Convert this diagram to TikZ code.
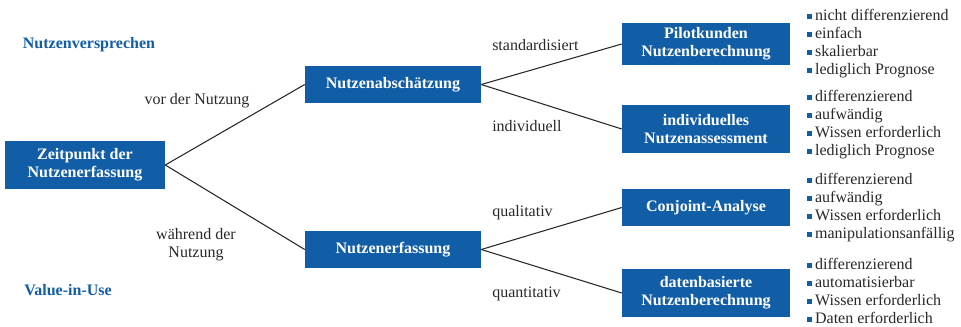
\documentclass[tikz,border=0pt]{standalone}
\usepackage{fontspec}
\setmainfont{Liberation Serif}
\usetikzlibrary{positioning}
\definecolor{nutzblue}{RGB}{17,94,167}
\definecolor{linegray}{RGB}{40,40,40}
\newcommand{\sqbul}{\strut\textcolor{nutzblue}{\rule[1pt]{3.6pt}{3.6pt}}\hspace{2.3pt}}

\begin{document}
\begin{tikzpicture}[
    x=0.75pt, y=-0.75pt,
    box/.style={fill=nutzblue, text=white, align=center, inner sep=0pt, font=\bfseries\fontsize{12}{13.5}\selectfont},
    lbl/.style={text=linegray, inner sep=0pt, align=center, font=\fontsize{12}{13.5}\selectfont},
    head/.style={text=nutzblue, inner sep=0pt, font=\bfseries\fontsize{12}{13.5}\selectfont},
    props/.style={anchor=north west, align=left, inner sep=0pt, text=linegray, font=\fontsize{12}{13.5}\selectfont},
    branch/.style={draw=linegray, line width=0.8pt}
]
\useasboundingbox (0,0) rectangle (961,326);

% Headings on the left
\node[head] (promise) at (89,45) {Nutzenversprechen};
\node[head] (inuse) at (68,290) {Value-in-Use};

% Tree of boxes
\node[box, minimum width=120pt, minimum height=36pt] (root) at (85,165) {Zeitpunkt der\\Nutzenerfassung};

\node[box, minimum width=132pt, minimum height=27.75pt] (estim) at (393,84.5) {Nutzenabsch\"atzung};
\node[box, minimum width=132pt, minimum height=27.75pt] (capture) at (393,249.5) {Nutzenerfassung};

\node[box, minimum width=126pt, minimum height=31.5pt] (pilot) at (706,44) {Pilotkunden\\Nutzenberechnung};
\node[box, minimum width=126pt, minimum height=36pt] (assess) at (706,129) {individuelles\\Nutzenassessment};
\node[box, minimum width=126pt, minimum height=27.75pt] (conjoint) at (706,207.5) {Conjoint-Analyse};
\node[box, minimum width=126pt, minimum height=36pt] (datacalc) at (706,293) {datenbasierte\\Nutzenberechnung};

% Branches
\draw[branch] (root.east) -- (estim.west);
\draw[branch] (root.east) -- (capture.west);
\draw[branch] (estim.east) -- (pilot.west);
\draw[branch] (estim.east) -- (assess.west);
\draw[branch] (capture.east) -- (conjoint.west);
\draw[branch] (capture.east) -- (datacalc.west);

% Branch labels
\node[lbl] (before) at (197,101) {vor der Nutzung};
\node[lbl] (during) at (196,245) {w\"ahrend der\\Nutzung};
\node[lbl, anchor=west] (std) at (492,45) {standardisiert};
\node[lbl, anchor=west] (ind) at (492,126) {individuell};
\node[lbl, anchor=west] (qual) at (492,213) {qualitativ};
\node[lbl, anchor=west] (quant) at (492,294) {quantitativ};

% Property lists
\node[props] (pilotprops) at (807,7.4) {\sqbul nicht differenzierend\\\sqbul einfach\\\sqbul skalierbar\\\sqbul lediglich Prognose};
\node[props] (assessprops) at (807,88.4) {\sqbul differenzierend\\\sqbul aufw\"andig\\\sqbul Wissen erforderlich\\\sqbul lediglich Prognose};
\node[props] (conjointprops) at (807,171.4) {\sqbul differenzierend\\\sqbul aufw\"andig\\\sqbul Wissen erforderlich\\\sqbul manipulationsanf\"allig};
\node[props] (dataprops) at (807,256.4) {\sqbul differenzierend\\\sqbul automatisierbar\\\sqbul Wissen erforderlich\\\sqbul Daten erforderlich};

\end{tikzpicture}
\end{document}
